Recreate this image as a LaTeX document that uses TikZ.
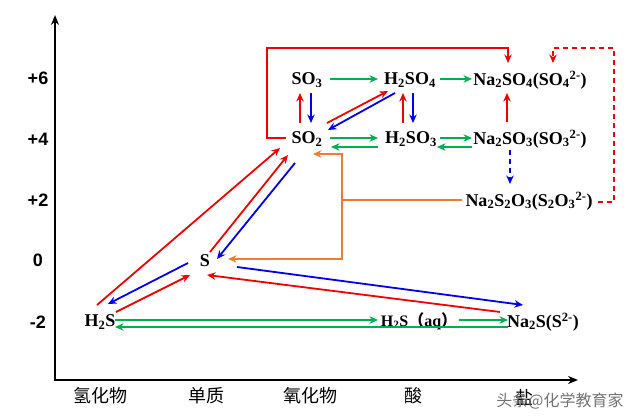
\documentclass[tikz,border=0pt]{standalone}
\usepackage{fontspec}
\setmainfont{Liberation Serif}
\newfontfamily\cjk{Noto Sans CJK SC}
\newfontfamily\axisfont{Liberation Sans}
\usetikzlibrary{positioning}
\usetikzlibrary{calc}
\usetikzlibrary{arrows.meta}
\definecolor{myred}{RGB}{245,0,0}
\definecolor{myblue}{RGB}{0,0,240}
\definecolor{mygreen}{RGB}{0,176,80}
\definecolor{myorange}{RGB}{237,125,49}
\tikzset{chem/.style={font=\fontsize{18}{20}\selectfont\bfseries,inner sep=0pt}}
\tikzset{valence/.style={font=\axisfont\fontsize{18}{20}\selectfont\bfseries,inner sep=0pt}}
\tikzset{kind/.style={font=\cjk\fontsize{18}{20}\selectfont,inner sep=0pt}}
\tikzset{conv/.style={line width=1.8pt,-{Stealth[length=8.5pt,width=7.5pt]}}}
\tikzset{redarr/.style={conv,myred}}
\tikzset{bluearr/.style={conv,myblue}}
\tikzset{greenarr/.style={conv,mygreen}}
\tikzset{orangearr/.style={conv,myorange}}

\begin{document}
\begin{tikzpicture}[x=1pt,y=-1pt]
		\useasboundingbox (0,0) rectangle (640,419);
		\tikzstyle{axis}=[line width=2.2pt,{Stealth[length=10pt,width=8pt]}-{Stealth[length=10pt,width=8pt]}]

		% axes
		\coordinate (ytip) at (55,15);
		\coordinate (xtip) at (578,380);
		\draw[axis] (ytip) |- (xtip);

		\node[valence](v6) at (38,78){+6};
		\node[valence](v4) at (38,139){+4};
		\node[valence](v2) at (38,200){+2};
		\node[valence](v0) at (38,260){0};
		\node[valence](vm2) at (38,322){-2};

		\node[kind](k1) at (100,396){氢化物};
		\node[kind](k2) at (206,396){单质};
		\node[kind](k3) at (310,396){氧化物};
		\node[kind](k4) at (413,396){酸};
		\node[kind](k5) at (524,397){盐};
		\node[font=\cjk\fontsize{16}{18}\selectfont,text=black!55,inner sep=0pt](mark) at (560,401){头条@化学教育家};

		% species
		\node[chem](SOthree) at (307,80){SO\textsubscript{3}};
		\node[chem](HtwoSOfour) at (410,80){H\textsubscript{2}SO\textsubscript{4}};
		\node[chem](NaSOfour) at (530,80){Na\textsubscript{2}SO\textsubscript{4}(SO\textsubscript{4}\textsuperscript{2-})};
		\node[chem](SOtwo) at (307,139){SO\textsubscript{2}};
		\node[chem](HtwoSOthree) at (411,139){H\textsubscript{2}SO\textsubscript{3}};
		\node[chem](NaSOthree) at (530,139){Na\textsubscript{2}SO\textsubscript{3}(SO\textsubscript{3}\textsuperscript{2-})};
		\node[chem](NaSthio) at (529,201){Na\textsubscript{2}S\textsubscript{2}O\textsubscript{3}(S\textsubscript{2}O\textsubscript{3}\textsuperscript{2-})};
		\node[chem](S) at (205,261){S};
		\node[chem](HtwoS) at (100,322){H\textsubscript{2}S};
		\node[chem,font=\fontsize{16}{18}\selectfont\bfseries](HtwoSaq) at (419,321){H\textsubscript{2}S{\cjk （}aq{\cjk ）}};
		\node[chem](NaS) at (543,322){Na\textsubscript{2}S(S\textsuperscript{2-})};

		% +6 / +4 row
		\draw[greenarr] ($(SOthree)+(23,-1)$) -- ($(HtwoSOfour)+(-32,-1)$);
		\draw[greenarr] ($(HtwoSOfour)+(30,-1)$) -- ($(NaSOfour)+(-58,-1)$);
		\draw[greenarr] ($(SOtwo)+(23,-1)$) -- ($(HtwoSOthree)+(-33,-1)$);
		\draw[greenarr] ($(HtwoSOthree)+(-33,8)$) -- ($(SOtwo)+(24,8)$);
		\draw[greenarr] ($(HtwoSOthree)+(29,-1)$) -- ($(NaSOthree)+(-58,-1)$);
		\draw[greenarr] ($(NaSOthree)+(-58,8)$) -- ($(HtwoSOthree)+(26,8)$);

		\draw[redarr] ($(SOtwo)+(-7,-16)$) -- ($(SOthree)+(-7,13)$);
		\draw[bluearr] ($(SOthree)+(4,13)$) -- ($(SOtwo)+(4,-16)$);
		\draw[redarr] ($(HtwoSOthree)+(-8,-16)$) -- ($(HtwoSOfour)+(-7,13)$);
		\draw[bluearr] ($(HtwoSOfour)+(3,13)$) -- ($(HtwoSOthree)+(2,-16)$);
		\draw[redarr] ($(SOtwo)+(20,-16)$) -- ($(HtwoSOfour)+(-22,11)$);
		\draw[bluearr] ($(HtwoSOfour)+(-15,13)$) -- ($(SOtwo)+(21,-9)$);
		\draw[redarr] ($(NaSOthree)+(-23,-17)$) -- ($(NaSOfour)+(-23,13)$);
		\draw[bluearr,dash pattern=on 5pt off 4pt] ($(NaSOthree)+(-20,11)$) -- ($(NaSthio)+(-19,-17)$);

		\draw[redarr] ($(SOtwo)+(-21,-1)$) -- ++(-19,0) -- ++(0,-90) -| ($(NaSOfour)+(-22,-17)$);
		\draw[redarr,dash pattern=on 5pt off 4pt] ($(NaSthio)+(69,1)$) -- ++(16,0) -- ++(0,-154) -| ($(NaSOfour)+(23,-17)$);

		\draw[line width=1.8pt,myorange] ($(NaSthio)+(-67,-1)$) -- ++(-120,0) coordinate (ojoin);
		\draw[orangearr] (ojoin) |- ($(SOtwo)+(6,15)$);
		\draw[orangearr] (ojoin) |- ($(S)+(23,-2)$);

		% 0 / -2 row
		\draw[redarr] ($(HtwoS)+(-3,-17)$) -- ($(SOtwo)+(-27,9)$);
		\draw[redarr] ($(S)+(5,-9)$) -- ($(SOtwo)+(-19,16)$);
		\draw[bluearr] ($(SOtwo)+(-12,24)$) -- ($(S)+(12,-2)$);
		\draw[bluearr] ($(S)+(-17,2)$) -- ($(HtwoS)+(8,-18)$);
		\draw[redarr] ($(HtwoS)+(16,-10)$) -- ($(S)+(-15,14)$);
		\draw[bluearr] ($(S)+(32,6)$) -- ($(NaS)+(-20,-17)$);
		\draw[redarr] ($(NaS)+(-43,-10)$) -- ($(S)+(2,14)$);

		\draw[greenarr] ($(HtwoS)+(15,-2)$) -- ($(HtwoSaq)+(-41,-1)$);
		\draw[greenarr] ($(HtwoSaq)+(40,-1)$) -- ($(NaS)+(-35,-2)$);
		\draw[greenarr] ($(NaS)+(-35,5)$) -- ($(HtwoS)+(15,5)$);
	\end{tikzpicture}
\end{document}
